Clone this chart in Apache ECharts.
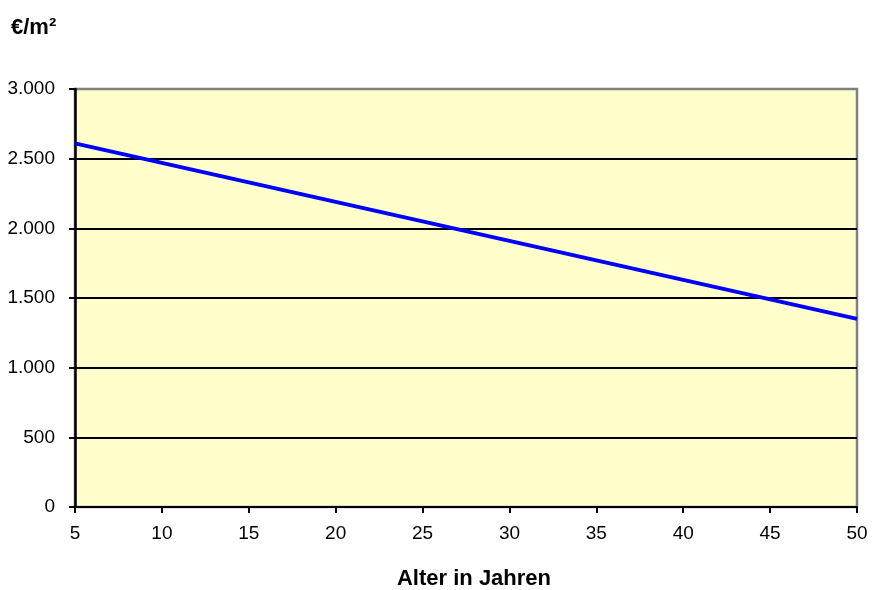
<!DOCTYPE html>
<html><head><meta charset="utf-8">
<script src="https://cdn.jsdelivr.net/npm/echarts@6/dist/echarts.min.js"></script>
<style>html,body{margin:0;padding:0;background:#fff}#c{width:873px;height:590px}</style>
</head><body><div id="c"></div>
<script>
const ages = [5, 10, 15, 20, 25, 30, 35, 40, 45, 50];
const values = [2610, 2470, 2330, 2190, 2050, 1910, 1770, 1630, 1490, 1350];
const yTitle = '€/m²';
const xTitle = 'Alter in Jahren';

const chart = echarts.init(document.getElementById('c'));
const F = 'Liberation Sans, Arial, sans-serif';
chart.setOption({
  animation: false,
  backgroundColor: '#ffffff',
  grid: { left: 75, right: 16, top: 89, bottom: 83, show: true, backgroundColor: '#FFFFCC', borderColor: '#808080', borderWidth: 2.5 },
  graphic: [
    { type: 'text', left: 11, top: 17, style: { text: yTitle, font: 'bold 22px ' + F, fill: '#000' } },
    { type: 'text', x: 474, y: 579, style: { text: xTitle, font: 'bold 22px ' + F, fill: '#000', align: 'center', verticalAlign: 'middle' } }
  ],
  xAxis: {
    type: 'value', min: 5, max: 50, interval: 5,
    axisLine: { show: true, lineStyle: { color: '#000', width: 2 } },
    axisTick: { show: true, length: 6, lineStyle: { color: '#000', width: 2 } },
    axisLabel: { fontFamily: F, fontSize: 19, color: '#000', margin: 17 },
    splitLine: { show: false }
  },
  yAxis: {
    type: 'value', min: 0, max: 3000, interval: 500,
    axisLine: { show: true, lineStyle: { color: '#000', width: 2.5 } },
    axisTick: { show: true, length: 6, lineStyle: { color: '#000', width: 2 } },
    axisLabel: { fontFamily: F, fontSize: 19, color: '#000', margin: 20, verticalAlign: 'middle', padding: [9, 0, 0, 0],
      formatter: v => v >= 1000 ? Math.floor(v/1000) + '.' + String(v%1000).padStart(3,'0') : String(v) },
    splitLine: { show: true, lineStyle: { color: ['#000','#000','#000','#000','#000','#000','#808080'], width: 1.8 } }
  },
  series: [{
    type: 'line', data: ages.map((a, i) => [a, values[i]]),
    showSymbol: false, lineStyle: { color: '#0000FF', width: 4 }, z: 5
  }]
});
</script></body></html>
